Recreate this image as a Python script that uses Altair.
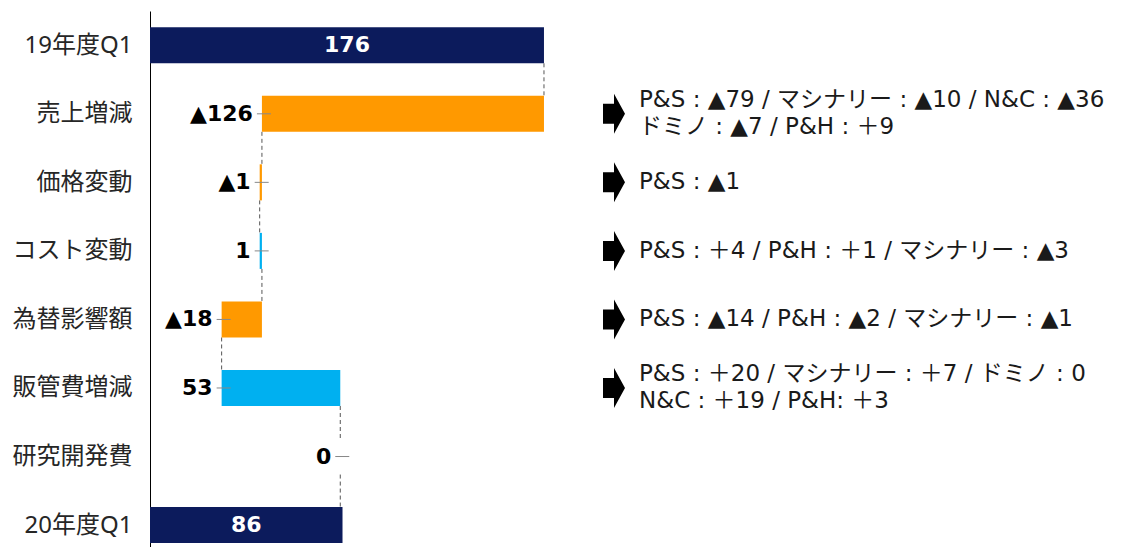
import json
import altair as alt
import pandas as pd

# Waterfall of operating profit change, 19年度Q1 -> 20年度Q1
categories = ["19年度Q1", "売上増減", "価格変動", "コスト変動", "為替影響額", "販管費増減", "研究開発費", "20年度Q1"]
values = [176, -126, -1, 1, -18, 53, 0, 86]
is_total = [True, False, False, False, False, False, False, True]
notes = [
    "",
    "P&S : ▲79 / マシナリー : ▲10 / N&C : ▲36\nドミノ : ▲7 / P&H : ＋9",
    "P&S : ▲1",
    "P&S : ＋4 / P&H : ＋1 / マシナリー : ▲3",
    "P&S : ▲14  / P&H : ▲2 / マシナリー : ▲1",
    "P&S : ＋20 / マシナリー : ＋7 / ドミノ : 0\nN&C : ＋19 / P&H: ＋3",
    "",
    "",
]

HALF = 0.263          # half bar thickness, in row units
X_MAX = 436.9         # right end of the value axis (room for notes)
Y_MAX = 7.82
LINE_H = 27
FONT = "DejaVu Sans, Noto Sans CJK JP"
AXIS_FONT = "Noto Sans, Noto Sans CJK JP"

rows = []
running = 0
for i, (c, v, t, n) in enumerate(zip(categories, values, is_total, notes)):
    if t:
        start, end = 0, v
    else:
        start, end = running, running + v
    running = end
    rows.append(dict(
        cat=c, pos=i + 0.5, ytop=i + 0.5 - HALF, ybot=i + 0.5 + HALF,
        x0=start, x1=end, xlo=min(start, end), xmid=(start + end) / 2,
        label=(f"▲{abs(v)}" if v < 0 else str(v)),
        kind="total" if t else ("down" if v < 0 else "up"),
        note=n, lines=(n.count("\n") + 1) if n else 0,
    ))
df = pd.DataFrame(rows)

# dashed connectors from the end of each bar to the next bar
conn = pd.DataFrame([
    dict(cx=rows[i]["x1"], cy=rows[i]["ybot"], cy2=rows[i + 1]["ytop"])
    for i in range(len(rows) - 1)
])

xs = alt.Scale(domain=[0, X_MAX], nice=False, zero=False)
ys = alt.Scale(domain=[0, Y_MAX], nice=False, zero=False, reverse=True)

label_expr = json.dumps(categories, ensure_ascii=False) + "[floor(datum.value)]"
y_axis = alt.Axis(
    values=[i + 0.5 for i in range(len(categories))],
    labelExpr=label_expr, ticks=False, grid=False,
    domainColor="#000000", domainWidth=1,
    labelFontSize=24, labelColor="#262626", labelFont=AXIS_FONT,
    labelPadding=18, title=None,
)


def Y(field):
    return alt.Y(field, scale=ys, axis=y_axis)


def X(field):
    return alt.X(field, scale=xs, axis=None)


base = alt.Chart(df)

bars = base.mark_bar().encode(
    x=X("x0:Q"), x2="x1:Q",
    y=Y("ytop:Q"), y2="ybot:Q",
    color=alt.Color("kind:N", legend=None, scale=alt.Scale(
        domain=["total", "down", "up"], range=["#0c1b5c", "#ff9900", "#00b0f0"])),
)

connectors = alt.Chart(conn).mark_rule(
    color="#555555", strokeDash=[4, 3], strokeWidth=1
).encode(x=X("cx:Q"), y=Y("cy:Q"), y2="cy2:Q")

deltas = base.transform_filter("datum.kind != 'total'")

leaders = deltas.mark_rule(color="#888888", strokeWidth=1, xOffset=-5, x2Offset=9).encode(
    x=X("xlo:Q"), x2="xlo:Q", y=Y("pos:Q"),
)

delta_labels = deltas.mark_text(
    align="right", baseline="middle", dx=-9, fontSize=22, fontWeight="bold",
    font=FONT, color="#000000"
).encode(x=X("xlo:Q"), y=Y("pos:Q"), text="label:N")

total_labels = base.transform_filter("datum.kind == 'total'").mark_text(
    align="center", baseline="middle", fontSize=22, fontWeight="bold",
    font=FONT, color="#ffffff"
).encode(x=X("xmid:Q"), y=Y("pos:Q"), text="label:N")

noted = base.transform_filter("datum.lines > 0")

arrow_path = "M-0.55,-0.5L0,-0.5L0,-1L0.55,0L0,1L0,0.5L-0.55,0.5Z"
arrows = noted.mark_point(
    shape=arrow_path, size=1600, filled=True, color="#000000", opacity=1
).encode(x=alt.value(464), y=Y("pos:Q"))

note_style = dict(
    align="left", baseline="middle", lineBreak="\n", lineHeight=LINE_H,
    fontSize=23, font=FONT, color="#1a1a1a",
)
notes_one = base.transform_filter("datum.lines == 1").mark_text(**note_style).encode(
    x=alt.value(489), y=Y("pos:Q"), text="note:N")
# two-line notes are centred on their row
notes_two = base.transform_filter("datum.lines == 2").mark_text(
    dy=-LINE_H / 2, **note_style
).encode(x=alt.value(489), y=Y("pos:Q"), text="note:N")

chart = alt.layer(
    connectors, bars, leaders, delta_labels, total_labels, arrows, notes_one, notes_two
).properties(
    width=978, height=536,
    background="#ffffff",
    autosize=alt.AutoSizeParams(type="none"),
    padding={"left": 150, "top": 11, "right": 0, "bottom": 0},
).configure_view(stroke=None)

chart.save("out.html", embed_options={"renderer": "svg", "actions": False})
